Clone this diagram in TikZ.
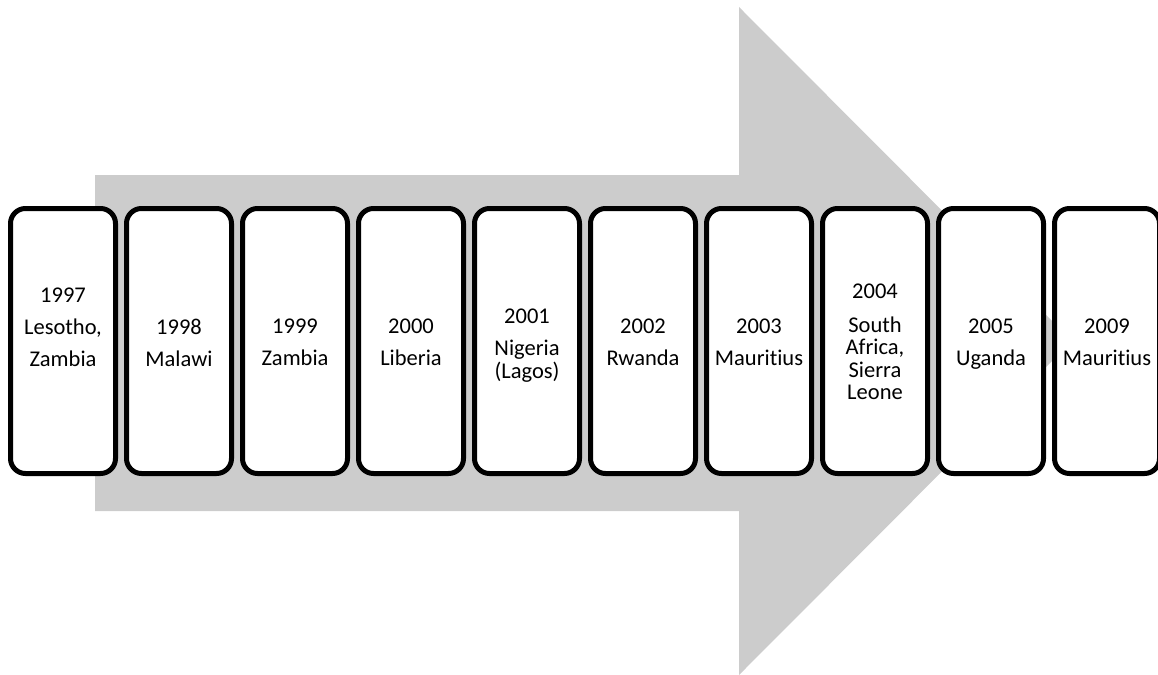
\documentclass[tikz,border=0pt]{standalone}
\usepackage{fontspec}
\setmainfont[Ligatures=NoCommon]{Carlito}
\definecolor{arrowgray}{RGB}{204,204,204}
\begin{document}
\begin{tikzpicture}[x=1pt,y=-1pt,
  yearbox/.style={draw=black, line width=5pt, rounded corners=15pt, fill=white,
    minimum width=105pt, minimum height=265pt, inner sep=0pt},
  yeartext/.style={anchor=north, inner sep=0pt, align=center,
    font=\fontsize{22.5}{22.5}\selectfont}]
\useasboundingbox (0,0) rectangle (1158,674);
\begin{scope}
\clip (0,0) rectangle (1158,674);
% big arrow
\fill[arrowgray] (95,175) -- (739,175) -- (739,7) -- (1072,341) -- (739,675)
  -- (739,511) -- (95,511) -- cycle;
% boxes
\foreach \i in {1,...,10}{
  \node[yearbox] (b\i) at ({63+116*(\i-1)},341) {};
}
\end{scope}
% texts
\node[yeartext] (t1) at (b1.center |- 0,288) {1997\\[9.5pt]Lesotho,\\[9.5pt]Zambia};
\node[yeartext] (t2) at (b2.center |- 0,319) {1998\\[9.5pt]Malawi};
\node[yeartext] (t3) at (b3.center |- 0,319) {1999\\[9.5pt]Zambia};
\node[yeartext] (t4) at (b4.center |- 0,319) {2000\\[9.5pt]Liberia};
\node[yeartext] (t5) at (b5.center |- 0,309) {2001\\[9.5pt]Nigeria\\(Lagos)};
\node[yeartext] (t6) at (b6.center |- 0,319) {2002\\[9.5pt]Rwanda};
\node[yeartext] (t7) at (b7.center |- 0,319) {2003\\[9.5pt]Mauritius};
\node[yeartext] (t8) at (b8.center |- 0,284) {2004\\[11pt]South\\Africa,\\Sierra\\Leone};
\node[yeartext] (t9) at (b9.center |- 0,319) {2005\\[9.5pt]Uganda};
\node[yeartext] (t10) at (b10.center |- 0,319) {2009\\[9.5pt]Mauritius};
\end{tikzpicture}
\end{document}
